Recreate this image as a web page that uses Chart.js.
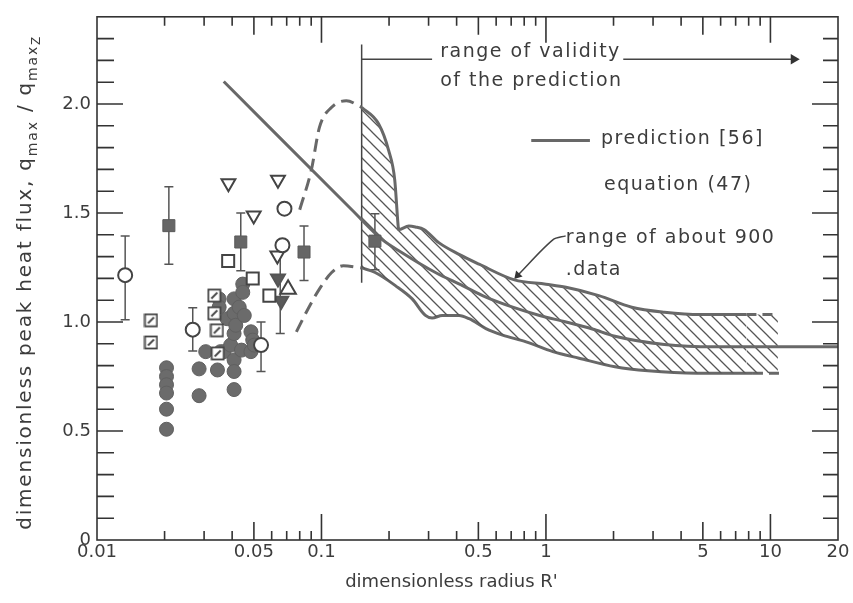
<!DOCTYPE html>
<html>
<head>
<meta charset="utf-8">
<script src="https://cdn.jsdelivr.net/npm/chart.js@4.4.1/dist/chart.umd.min.js"></script>
<style>
html,body{margin:0;padding:0;background:#fff;}
#wrap{width:853px;height:603px;}
</style>
</head>
<body>
<div id="wrap"><canvas id="grafico" width="853" height="603"></canvas></div>
<script>
// axis ticks
const xTickValues = [0.01, 0.05, 0.1, 0.5, 1, 5, 10, 20];
const xTickLabels = ["0.01", "0.05", "0.1", "0.5", "1", "5", "10", "20"];
const yTickValues = [0, 0.5, 1, 1.5, 2];
const yTickLabels = ["0", "0.5", "1.0", "1.5", "2.0"];

// experimental points  [R', qmax/qmaxZ]
const filledCircles = [
  [0.0204,0.79],[0.0204,0.75],[0.0204,0.712],[0.0204,0.674],[0.0204,0.60],[0.0204,0.508],
  [0.0285,0.785],[0.0285,0.662],[0.0305,0.864],[0.0344,0.78],
  [0.035,1.106],[0.035,1.068],[0.0355,0.864],[0.0368,0.864],[0.038,1.015],
  [0.0394,0.894],[0.0408,1.106],[0.0408,1.04],[0.0408,0.947],[0.0408,0.826],[0.0408,0.773],[0.0408,0.69],
  [0.0415,0.985],[0.043,1.068],[0.0446,1.174],[0.0446,1.136],[0.044,0.871],[0.0453,1.03],
  [0.0485,0.955],[0.0485,0.864],[0.0494,0.917],[0.0502,0.894]
];
const openCircles = [[0.01335,1.215],[0.0267,0.965],[0.0538,0.894],[0.0684,1.52],[0.067,1.352]];
const filledSquares = [[0.0209,1.442],[0.0437,1.367],[0.0836,1.321],[0.173,1.371]];
const openSquares = [[0.0384,1.28],[0.0494,1.2],[0.0586,1.121]];
const hatchedSquares = [[0.0174,1.008],[0.0174,0.906],[0.0333,1.121],[0.0333,1.04],[0.0342,0.962],[0.0345,0.856]];
const openDownTriangles = [[0.0385,1.636],[0.064,1.652],[0.0499,1.488],[0.0636,1.305]];
const filledDownTriangles = [[0.064,1.2],[0.0662,1.098]];
const openUpTriangles = [[0.071,1.15]];
// [R', low, high]
const errorBars = [
  [0.01335,1.01,1.395],[0.0267,0.867,1.065],[0.0538,0.773,1.0],[0.0209,1.265,1.62],
  [0.0437,1.235,1.5],[0.0836,1.19,1.44],[0.173,1.24,1.497],[0.0655,0.947,1.32]
];

// curves
const predictionLine = [
  [0.0367,2.103],[0.1365,1.515],[0.186,1.379],[0.2286,1.318],[0.322,1.227],[0.425,1.167],
  [0.54,1.114],[0.711,1.068],[0.937,1.03],[1.228,1.0],[1.61,0.968],[2.03,0.935],[3.37,0.897],
  [5.58,0.886],[20,0.886]
];
const upperDashed = [[0.080,1.515],[0.0901,1.697],[0.098,1.894],[0.111,1.985],[0.129,2.015],[0.151,1.985]];
const upperBound = [
  [0.151,1.985],[0.1796,1.909],[0.199,1.788],[0.212,1.652],[0.219,1.455],[0.2205,1.424],
  [0.245,1.44],[0.262,1.436],[0.286,1.424],[0.333,1.364],[0.41,1.31],[0.504,1.265],
  [0.724,1.193],[1.0,1.173],[1.228,1.159],[1.72,1.121],[2.41,1.068],[3.37,1.045],
  [4.88,1.034],[7.82,1.034],[10.8,1.034]
];
const lowerDashed = [[0.0773,0.955],[0.0871,1.06],[0.098,1.152],[0.111,1.227],[0.125,1.258],[0.151,1.248]];
const lowerBound = [
  [0.151,1.248],[0.1734,1.227],[0.2134,1.167],[0.2535,1.106],[0.2905,1.03],[0.311,1.018],
  [0.345,1.03],[0.41,1.03],[0.455,1.015],[0.54,0.97],[0.641,0.94],[0.816,0.909],
  [1.073,0.864],[1.405,0.834],[2.03,0.795],[2.85,0.776],[4.72,0.765],[8.36,0.765],[11.5,0.765]
];
const validityLine = [[0.151,1.18],[0.151,2.273]];
const validityBar = [[0.151,2.205],[0.311,2.205]];
const validityArrow = [[2.21,2.205],[12.7,2.205]];
const bandLeader = [[1.224,1.395],[1.073,1.377],[0.748,1.214]];

const pts = a => a.map(p => ({x: p[0], y: p[1]}));
const FONT = "DejaVu Sans";
const INK = "#3c3c3c";
const LINE = "#686868";

const canvas = document.getElementById("grafico");
const ctx0 = canvas.getContext("2d");

function hatchPattern(){
  const s = 12, c = document.createElement("canvas");
  c.width = s; c.height = s;
  const g = c.getContext("2d");
  g.strokeStyle = "#555"; g.lineWidth = 1.3;
  g.beginPath();
  g.moveTo(-2,-2); g.lineTo(s+2,s+2);
  g.moveTo(-2,s-2); g.lineTo(2,s+2);
  g.moveTo(s-2,-2); g.lineTo(s+2,2);
  g.stroke();
  return ctx0.createPattern(c, "repeat");
}

function hatchedBox(){
  const c = document.createElement("canvas");
  c.width = 15; c.height = 15;
  const g = c.getContext("2d");
  g.fillStyle = "#fff"; g.fillRect(1,1,13,13);
  g.strokeStyle = "#444"; g.lineWidth = 1.8; g.strokeRect(1.5,1.5,12,12);
  g.beginPath(); g.moveTo(4.5,10.5); g.lineTo(10.5,4.5); g.stroke();
  return c;
}

function marker(data, style, fill, extra){
  return Object.assign({
    data: pts(data), pointStyle: style, pointRadius: 7,
    pointBackgroundColor: fill, pointBorderColor: "#444", pointBorderWidth: 2,
    showLine: false
  }, extra || {});
}

function curve(data, extra){
  return Object.assign({
    data: pts(data), showLine: true, pointRadius: 0, borderColor: LINE, borderWidth: 3,
    fill: false, cubicInterpolationMode: "monotone"
  }, extra || {});
}

const tailDash = ctx => ctx.p0.parsed.x >= 7.8 ? [10,6] : undefined;

const datasets = [
  marker(openCircles, "circle", "#fff"),
  marker(openSquares, "rect", "#fff", {pointRadius: 8.5}),
  marker(hatchedSquares, hatchedBox(), "#fff"),
  marker(openDownTriangles, "triangle", "#fff", {pointRadius: 8, pointRotation: 180}),
  marker(openUpTriangles, "triangle", "#fff", {pointRadius: 9}),
  marker(filledDownTriangles, "triangle", "#5a5a5a", {pointRadius: 8, pointRotation: 180, pointBorderColor: "#555"}),
  marker(filledSquares, "rect", "#666", {pointRadius: 8.5, pointBorderColor: "#5a5a5a", pointBorderWidth: 1}),
  marker(filledCircles, "circle", "#6b6b6b", {pointRadius: 7, pointBorderColor: "#606060", pointBorderWidth: 1}),
  curve(predictionLine),
  curve(upperBound, {fill: "+1", backgroundColor: hatchPattern(), segment: {borderDash: tailDash}}),
  curve(lowerBound, {segment: {borderDash: tailDash}}),
  curve(upperDashed, {borderDash: [13,7]}),
  curve(lowerDashed, {borderDash: [13,7]}),
  curve(validityLine, {borderColor: "#444", borderWidth: 1.5, cubicInterpolationMode: "default", tension: 0}),
  curve(validityBar, {borderColor: "#444", borderWidth: 1.5, cubicInterpolationMode: "default", tension: 0}),
  curve(validityArrow, {borderColor: "#444", borderWidth: 1.5, cubicInterpolationMode: "default", tension: 0,
    pointRadius: [0, 6], pointStyle: "triangle", pointRotation: 90, pointBackgroundColor: "#333", pointBorderWidth: 0}),
  curve(bandLeader, {borderColor: "#444", borderWidth: 1.5, cubicInterpolationMode: "default", tension: 0.3,
    pointRadius: [0, 0, 5], pointStyle: "triangle", pointRotation: 222, pointBackgroundColor: "#333", pointBorderWidth: 0})
];

const whiteBg = {
  id: "whiteBg",
  beforeDraw(c){
    const g = c.ctx;
    g.save(); g.fillStyle = "#fff"; g.fillRect(0,0,c.width,c.height); g.restore();
  }
};

const errBars = {
  id: "errBars",
  beforeDatasetsDraw(c){
    const {ctx, scales: {x, y}} = c;
    ctx.save();
    ctx.strokeStyle = "#555"; ctx.lineWidth = 1.5;
    ctx.beginPath();
    errorBars.forEach(([r, lo, hi]) => {
      const px = x.getPixelForValue(r), p1 = y.getPixelForValue(lo), p2 = y.getPixelForValue(hi);
      ctx.moveTo(px, p1); ctx.lineTo(px, p2);
      ctx.moveTo(px-4.5, p1); ctx.lineTo(px+4.5, p1);
      ctx.moveTo(px-4.5, p2); ctx.lineTo(px+4.5, p2);
    });
    ctx.stroke();
    ctx.restore();
  }
};

// frame with inward ticks on all four sides
const frameTicks = {
  id: "frameTicks",
  afterDraw(c){
    const {ctx, chartArea: a, scales: {x, y}} = c;
    ctx.save();
    ctx.strokeStyle = "#333"; ctx.lineWidth = 1.6;
    ctx.strokeRect(a.left, a.top, a.right-a.left, a.bottom-a.top);
    ctx.beginPath();
    [0.01, 0.1, 1, 10].forEach(d => {
      for (let m = 1; m <= 9; m++){
        if (d === 0.01 && m === 1) continue;
        if (d === 10 && m > 1) break;
        const px = x.getPixelForValue(d*m);
        const len = m === 1 ? 26 : (m === 5 ? 18 : 9);
        ctx.moveTo(px, a.bottom); ctx.lineTo(px, a.bottom-len);
        ctx.moveTo(px, a.top); ctx.lineTo(px, a.top+len);
      }
    });
    for (let i = 1; i < 24; i++){
      const py = y.getPixelForValue(i/10);
      const big = i % 5 === 0;
      ctx.moveTo(a.left, py); ctx.lineTo(a.left+(big ? 26 : 17), py);
      ctx.moveTo(a.right, py); ctx.lineTo(a.right-(big ? 26 : 15), py);
    }
    ctx.stroke();
    ctx.restore();
  }
};

const notes = {
  id: "notes",
  afterDraw(c){
    const {ctx, chartArea: a, scales: {x, y}} = c;
    const put = (t, vx, vy) => ctx.fillText(t, x.getPixelForValue(vx), y.getPixelForValue(vy));
    ctx.save();
    ctx.fillStyle = INK;
    ctx.font = "19px '" + FONT + "'";
    ctx.letterSpacing = "1.5px";
    ctx.textBaseline = "alphabetic";
    put("range of validity", 0.338, 2.214);
    put("of the prediction", 0.338, 2.082);
    put("prediction [56]", 1.76, 1.818);
    put("equation (47)", 1.815, 1.605);
    put("range of about 900", 1.224, 1.364);
    put(".data", 1.224, 1.214);
    // legend sample line
    ctx.strokeStyle = LINE; ctx.lineWidth = 3;
    ctx.beginPath();
    ctx.moveTo(x.getPixelForValue(0.86), y.getPixelForValue(1.832));
    ctx.lineTo(x.getPixelForValue(1.57), y.getPixelForValue(1.832));
    ctx.stroke();

    // x title
    ctx.letterSpacing = "0px";
    ctx.font = "18px '" + FONT + "'";
    ctx.textAlign = "center"; ctx.textBaseline = "middle";
    ctx.fillText("dimensionless radius R'", (a.left+a.right)/2 - 16, 582);

    // y title with subscripts
    const parts = [
      ["dimensionless peak heat flux, q", 20, 0],
      ["max", 14, 6],
      [" / q", 20, 0],
      ["max", 14, 6],
      ["Z", 12, 9]
    ];
    ctx.letterSpacing = "1.8px";
    ctx.textAlign = "left"; ctx.textBaseline = "alphabetic";
    let total = 0;
    parts.forEach(p => { ctx.font = p[1] + "px '" + FONT + "'"; total += ctx.measureText(p[0]).width; });
    ctx.translate(31, (a.top+a.bottom)/2 + 4);
    ctx.rotate(-Math.PI/2);
    let cx = -total/2;
    parts.forEach(p => {
      ctx.font = p[1] + "px '" + FONT + "'";
      ctx.fillText(p[0], cx, p[2]);
      cx += ctx.measureText(p[0]).width;
    });
    ctx.restore();
  }
};

const chart = new Chart(canvas, {
  type: "scatter",
  data: {datasets},
  options: {
    responsive: false,
    animation: false,
    devicePixelRatio: 1,
    layout: {padding: {top: 10, right: 15, bottom: 0, left: 0}},
    plugins: {legend: {display: false}, tooltip: {enabled: false}},
    scales: {
      x: {
        type: "logarithmic", min: 0.01, max: 20,
        afterBuildTicks: s => { s.ticks = xTickValues.map(v => ({value: v})); },
        afterFit: s => { s.height = 63; },
        ticks: {
          autoSkip: false, maxRotation: 0, padding: 2, color: INK,
          font: {family: FONT, size: 18},
          callback: (v, i) => xTickLabels[i]
        },
        grid: {display: false, drawTicks: false},
        border: {display: false}
      },
      y: {
        min: 0, max: 2.4,
        afterBuildTicks: s => { s.ticks = yTickValues.map(v => ({value: v})); },
        afterFit: s => { s.width = 97; },
        ticks: {
          padding: 6, color: INK,
          font: {family: FONT, size: 18},
          callback: (v, i) => yTickLabels[i]
        },
        grid: {display: false, drawTicks: false},
        border: {display: false}
      }
    }
  },
  plugins: [whiteBg, errBars, frameTicks, notes]
});
</script>
</body>
</html>
